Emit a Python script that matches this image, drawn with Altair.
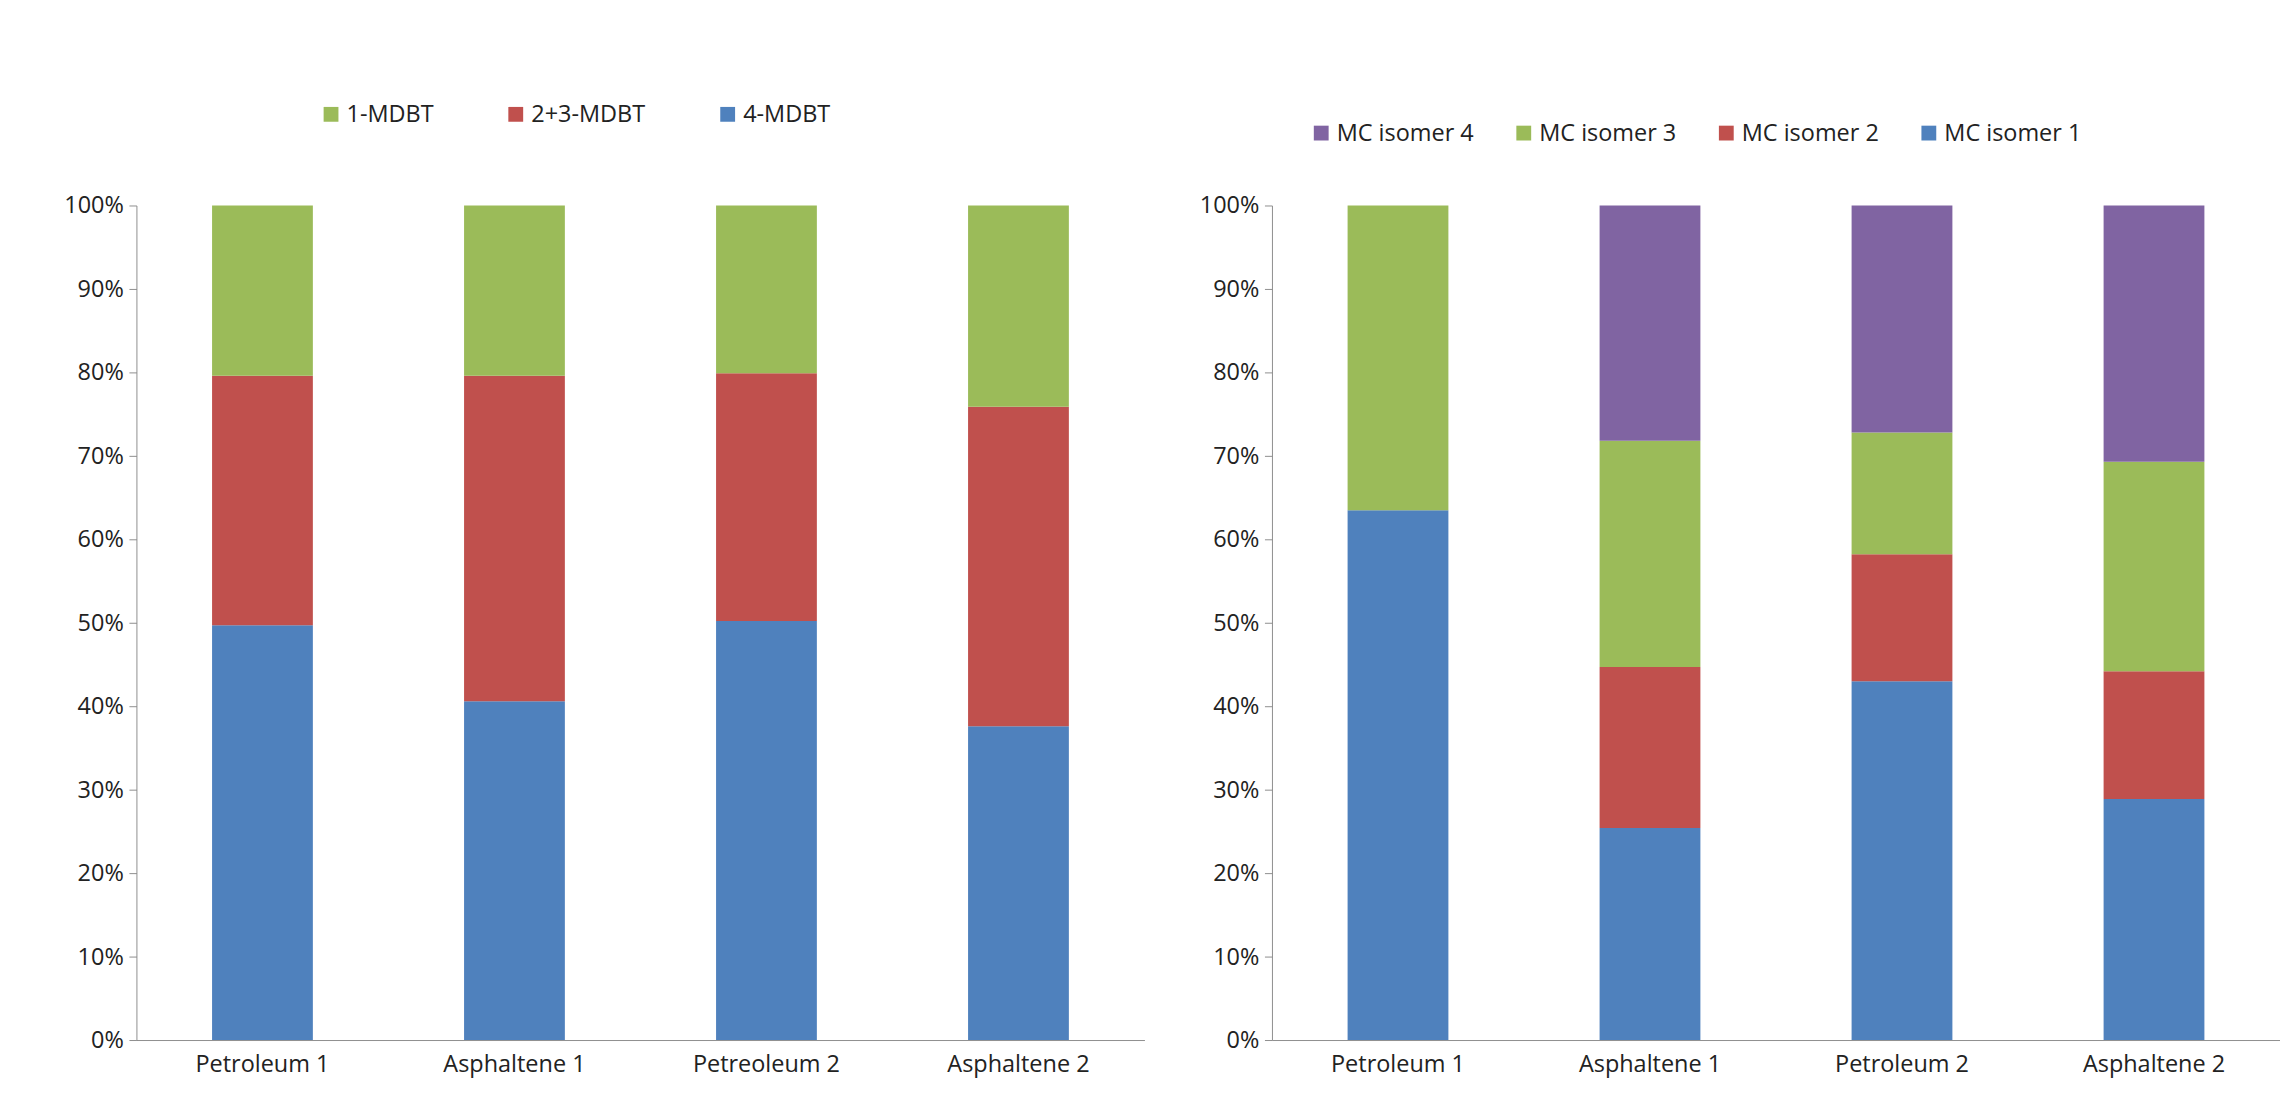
import altair as alt
import pandas as pd

samples_left = ["Petroleum 1", "Asphaltene 1", "Petreoleum 2", "Asphaltene 2"]
mdbt_4 = [49.7, 40.6, 50.2, 37.6]
mdbt_23 = [29.9, 39.0, 29.7, 38.3]
mdbt_1 = [20.4, 20.4, 20.1, 24.1]

samples_right = ["Petroleum 1", "Asphaltene 1", "Petroleum 2", "Asphaltene 2"]
iso_1 = [63.5, 25.4, 43.0, 28.9]
iso_2 = [0.0, 19.3, 15.2, 15.3]
iso_3 = [36.5, 27.1, 14.6, 25.1]
iso_4 = [0.0, 28.2, 27.2, 30.7]

BLUE, RED, GREEN, PURPLE = "#4F81BD", "#C0504D", "#9BBB59", "#8064A2"
FONT = "Open Sans"


def build_df(samples, series):
    rows = []
    for order, (name, values) in enumerate(series):
        for s, v in zip(samples, values):
            rows.append({"Sample": s, "Series": name, "Value": v / 100, "Order": order})
    return pd.DataFrame(rows)


def panel(df, samples, legend_names, legend_colors, legend_x, legend_y, col_pad):
    return (
        alt.Chart(df)
        .mark_bar()
        .encode(
            x=alt.X(
                "Sample:N",
                sort=samples,
                title=None,
                scale=alt.Scale(paddingInner=0.6, paddingOuter=0.3),
                axis=alt.Axis(labelAngle=0, labelPadding=14, ticks=False),
            ),
            y=alt.Y(
                "Value:Q",
                stack="zero",
                title=None,
                scale=alt.Scale(domain=[0, 1], nice=False),
                axis=alt.Axis(format=".0%", values=[i / 10 for i in range(11)], grid=False,
                              tickSize=8, labelPadding=6),
            ),
            color=alt.Color(
                "Series:N",
                scale=alt.Scale(domain=legend_names, range=legend_colors),
                legend=alt.Legend(orient="none", legendX=legend_x, legendY=legend_y,
                                  title=None, direction="horizontal",
                                  symbolType="square", symbolSize=250,
                                  columnPadding=col_pad),
            ),
            order=alt.Order("Order:Q"),
        )
        .properties(width=1075, height=890)
    )


left_df = build_df(samples_left, [("4-MDBT", mdbt_4), ("2+3-MDBT", mdbt_23), ("1-MDBT", mdbt_1)])
right_df = build_df(samples_right, [("MC isomer 1", iso_1), ("MC isomer 2", iso_2),
                                     ("MC isomer 3", iso_3), ("MC isomer 4", iso_4)])

left = panel(left_df, samples_left, ["1-MDBT", "2+3-MDBT", "4-MDBT"],
             [GREEN, RED, BLUE], 195, -110, 75)
right = panel(right_df, samples_right,
              ["MC isomer 4", "MC isomer 3", "MC isomer 2", "MC isomer 1"],
              [PURPLE, GREEN, RED, BLUE], 40, -90, 40)

chart = (
    alt.hconcat(left, right, spacing=58)
    .resolve_scale(color="independent")
    .properties(padding={"left": 59, "top": 64, "right": 0, "bottom": 0})
    .configure_view(stroke=None)
    .configure_axis(labelFont=FONT, labelFontSize=25, labelColor="#222", domainColor="#888",
                    tickColor="#888")
    .configure_legend(labelFont=FONT, labelFontSize=25, labelColor="#222")
)

chart.save("out.html", embed_options={"renderer": "svg", "actions": False})
